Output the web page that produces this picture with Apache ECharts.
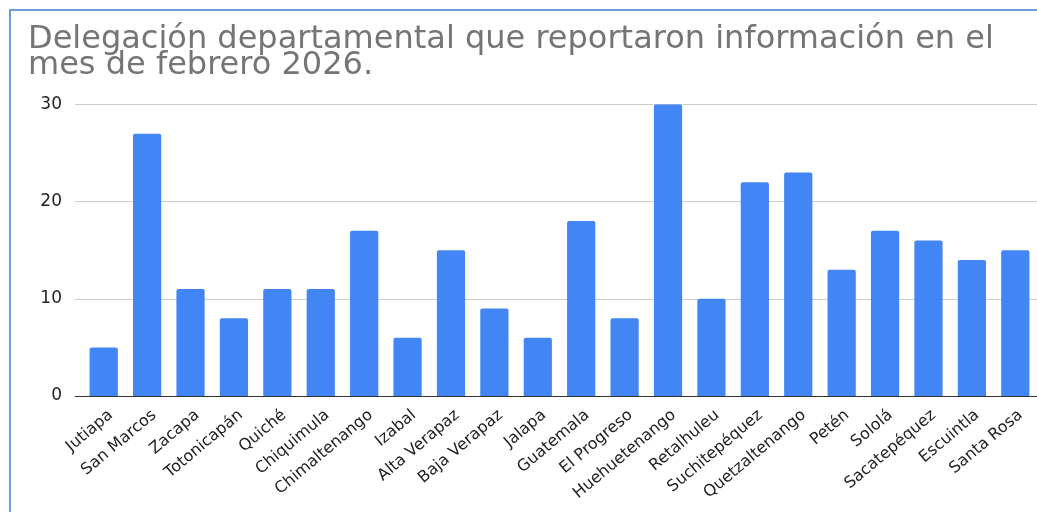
<!DOCTYPE html>
<html>
<head>
<meta charset="utf-8">
<script src="https://cdn.jsdelivr.net/npm/echarts@6/dist/echarts.min.js"></script>
<style>
  html, body { margin: 0; padding: 0; background: #fff; }
  #chart { width: 1037px; height: 512px; }
</style>
</head>
<body>
<div id="chart"></div>
<script>
const categories = ["Jutiapa", "San Marcos", "Zacapa", "Totonicapán", "Quiché", "Chiquimula", "Chimaltenango", "Izabal", "Alta Verapaz", "Baja Verapaz", "Jalapa", "Guatemala", "El Progreso", "Huehuetenango", "Retalhuleu", "Suchitepéquez", "Quetzaltenango", "Petén", "Sololá", "Sacatepéquez", "Escuintla", "Santa Rosa"];
const values = [5, 27, 11, 8, 11, 11, 17, 6, 15, 9, 6, 18, 8, 30, 10, 22, 23, 13, 17, 16, 14, 15];
const yTicks = [0, 10, 20, 30];
const titleLines = ["Delegación departamental que reportaron información en el", "mes de febrero 2026."];

const FONT = 'DejaVu Sans, Liberation Sans, Arial, sans-serif';
const TOP = 104.5, BOTTOM = 116;
const yMin = yTicks[0], yMax = yTicks[yTicks.length - 1];

const chart = echarts.init(document.getElementById('chart'));
chart.setOption({
  animation: false,
  backgroundColor: '#ffffff',
  title: {
    text: titleLines.join('\n'),
    left: 23,
    top: 22,
    textStyle: {
      fontFamily: FONT,
      fontSize: 32,
      fontWeight: 'normal',
      color: '#757575',
      lineHeight: 26
    }
  },
  graphic: [
    { type: 'line', shape: { x1: 9, y1: 10, x2: 1037, y2: 10 }, style: { stroke: '#6a9fdc', lineWidth: 2 } },
    { type: 'line', shape: { x1: 10, y1: 9, x2: 10, y2: 512 }, style: { stroke: '#6a9fdc', lineWidth: 2 } }
  ],
  grid: [
    { left: 82, right: -2, top: TOP, bottom: BOTTOM },
    { left: 84, right: -4, top: TOP, bottom: BOTTOM },
    { left: 75, right: -2, top: TOP, bottom: BOTTOM }
  ],
  xAxis: [
    { gridIndex: 0, type: 'category', data: categories, show: false },
    {
      gridIndex: 1, type: 'category', data: categories,
      axisLine: { show: false }, axisTick: { show: false },
      axisLabel: {
        interval: 0, rotate: 40, margin: 11,
        verticalAlign: 'top',
        fontFamily: FONT, fontSize: 16, color: '#222222'
      }
    },
    { gridIndex: 2, type: 'value', show: false, min: 0, max: 1 }
  ],
  yAxis: [
    { gridIndex: 0, type: 'value', min: yMin, max: yMax, interval: 10, show: false },
    { gridIndex: 1, type: 'value', min: yMin, max: yMax, interval: 10, show: false },
    {
      gridIndex: 2, type: 'value', min: yMin, max: yMax, interval: 10,
      axisLine: { show: false }, axisTick: { show: false },
      splitLine: { lineStyle: { color: ['#333333', '#cccccc', '#cccccc', '#cccccc'], width: 1 } },
      axisLabel: { margin: 13, fontFamily: FONT, fontSize: 17, color: '#222222' }
    }
  ],
  series: [{
    type: 'bar',
    xAxisIndex: 0, yAxisIndex: 0,
    data: values,
    barWidth: '65%',
    itemStyle: { color: '#4285F4', borderRadius: [2, 2, 0, 0] }
  }]
});
</script>
</body>
</html>
